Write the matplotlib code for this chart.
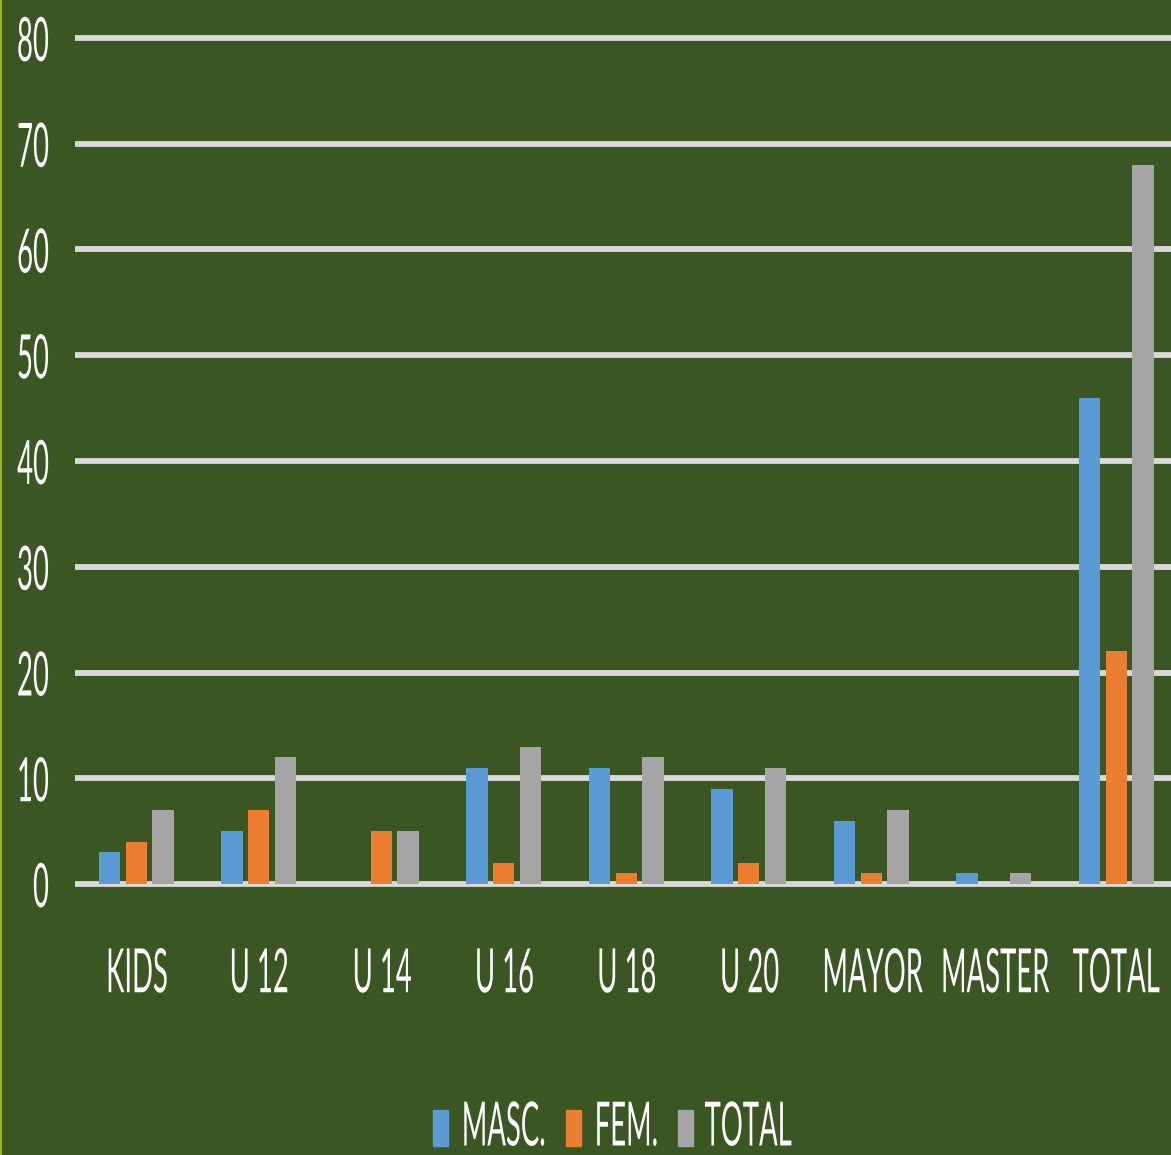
import matplotlib
matplotlib.use("Agg")
from matplotlib import pyplot as plt
from matplotlib.lines import Line2D
from matplotlib.patches import Rectangle
from matplotlib.patheffects import AbstractPathEffect
from matplotlib.transforms import Affine2D
import numpy as np

# data
categories = ['KIDS', 'U 12', 'U 14', 'U 16', 'U 18', 'U 20', 'MAYOR', 'MASTER', 'TOTAL']
masc = [3, 5, 0, 11, 11, 9, 6, 1, 46]
fem = [4, 7, 5, 2, 1, 2, 1, 0, 22]
total = [7, 12, 5, 13, 12, 11, 7, 1, 68]
series_names = ['MASC.', 'FEM.', 'TOTAL']
yticks = [0, 10, 20, 30, 40, 50, 60, 70, 80]

bg = '#3a5623'
colors = ['#5b9bd5', '#ed7d31', '#a5a5a5']
plt.rcParams['font.family'] = ['Lato', 'DejaVu Sans']
FS = 44
SX = 0.45


class Squeeze(AbstractPathEffect):
    # narrows the drawn glyphs horizontally (the reference text is very condensed)
    def __init__(self, sx, anchor='center'):
        super().__init__()
        self.sx = sx
        self.anchor = anchor

    def draw_path(self, renderer, gc, tpath, affine, rgbFace=None):
        ext = affine.transform_path(tpath).get_extents()
        if self.anchor == 'right':
            cx = ext.x1
        elif self.anchor == 'left':
            cx = ext.x0
        else:
            cx = (ext.x0 + ext.x1) / 2
        new = affine + Affine2D().translate(-cx, 0).scale(self.sx, 1).translate(cx, 0)
        renderer.draw_path(gc, tpath, new, rgbFace)


W, H = 1171, 1155
fig = plt.figure(figsize=(W / 100, H / 100), dpi=100, facecolor=bg)
left, right = 75, 1177.5
bottom, top = 889.3, 32.7
ax = fig.add_axes([left / W, 1 - bottom / H, (right - left) / W, (bottom - top) / H])
ax.set_facecolor(bg)

x = np.arange(len(categories))
width = 0.175
step = 0.22
for i, (vals, name) in enumerate(zip([masc, fem, total], series_names)):
    ax.bar(x + (i - 1) * step, vals, width, color=colors[i], label=name, zorder=3)

ax.set_xlim(-0.5, len(categories) - 0.5)
ax.set_ylim(-0.5, 80.5)
ax.set_yticks(yticks)
ax.set_xticks(x)
ax.set_xticklabels(categories)
ax.yaxis.grid(True, color='#d9d9d9', linewidth=4.2, zorder=1)
ax.set_axisbelow(True)
for s in ax.spines.values():
    s.set_visible(False)
ax.tick_params(axis='both', length=0, colors='white', labelsize=FS)
ax.tick_params(axis='y', pad=18)
ax.tick_params(axis='x', pad=41)
for t in ax.get_yticklabels():
    t.set_path_effects([Squeeze(SX, 'right')])
for t in ax.get_xticklabels():
    t.set_path_effects([Squeeze(SX, 'center')])

# legend built by hand so the spacing follows the narrowed text
fig.canvas.draw()
renderer = fig.canvas.get_renderer()
leg_y = 1 - 1128 / H
hw, hh, gap, sep = 15, 36, 11, 23
texts = []
widths = []
for name in series_names:
    t = fig.text(0, leg_y, name, color='white', fontsize=FS, va='center', ha='left')
    t.set_path_effects([Squeeze(SX, 'left')])
    texts.append(t)
    widths.append(t.get_window_extent(renderer).width * SX)
total_w = sum(hw + gap + w for w in widths) + sep * (len(widths) - 1)
xpos = 612 - total_w / 2
for t, w, c in zip(texts, widths, colors):
    fig.add_artist(Rectangle((xpos / W, leg_y - hh / 2 / H), hw / W, hh / H,
                             transform=fig.transFigure, color=c))
    t.set_x((xpos + hw + gap) / W)
    xpos += hw + gap + w + sep

# thin border line on the left edge
fig.add_artist(Line2D([0.001, 0.001], [0, 1], transform=fig.transFigure, color='#9bb81c', linewidth=1.5))

fig.savefig('out.png', dpi=100, facecolor=bg)
